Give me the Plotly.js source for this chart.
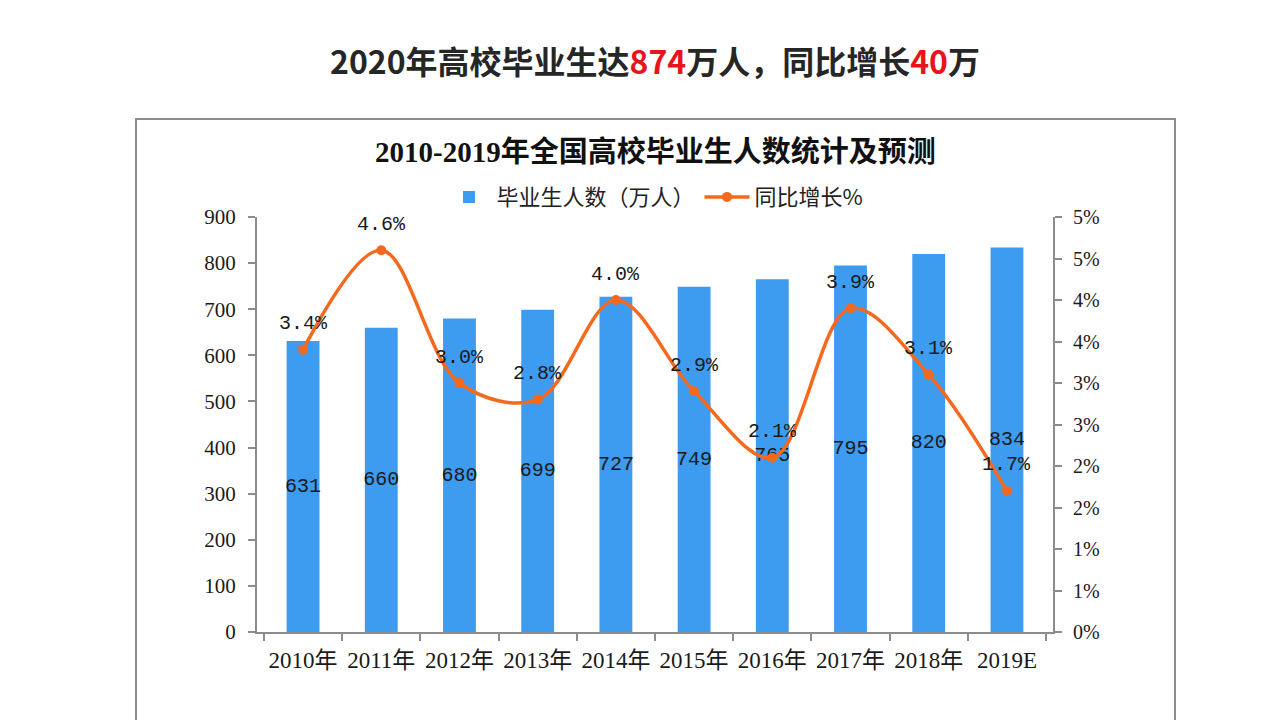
<!DOCTYPE html>
<html><head><meta charset="utf-8">
<script src="https://cdn.plot.ly/plotly-3.0.1.min.js"></script>
<style>
body{margin:0;background:#fff;}
#frame{position:absolute;left:135px;top:118px;width:1041px;height:620px;border:2px solid #8c8c8c;box-sizing:border-box;background:#fff;}
#chart{position:absolute;left:0;top:0;width:1280px;height:720px;}
</style>
</head><body>
<div id="frame"></div>
<div id="chart"></div>
<script>
const years = ['2010年','2011年','2012年','2013年','2014年','2015年','2016年','2017年','2018年','2019E'];
const graduates = [631,660,680,699,727,749,765,795,820,834];
const growth = [3.4,4.6,3.0,2.8,4.0,2.9,2.1,3.9,3.1,1.7];
const growthTickVals = [0,0.5,1,1.5,2,2.5,3,3.5,4,4.5,5];
const growthTickText = ['0%','1%','1%','2%','2%','3%','3%','4%','4%','5%','5%'];

const serif = 'Liberation Serif, Noto Sans CJK SC, serif';
const mono = 'Liberation Mono, Noto Sans CJK SC, monospace';
const cjk = 'Noto Sans CJK SC, sans-serif';
const barColor = '#3d9bf0';
const lineColor = '#f5691e';

const traces = [
  {
    type: 'bar', name: '毕业生人数（万人）', x: years, y: graduates,
    marker: {color: barColor},
    text: graduates.map(String), textposition: 'inside', insidetextanchor: 'middle',
    textangle: 0, constraintext: 'none',
    textfont: {family: mono, size: 20, color: '#1a1a1a'},
    hoverinfo: 'x+y'
  },
  {
    type: 'scatter', mode: 'lines+markers', name: '同比增长%', x: years, y: growth, yaxis: 'y2',
    line: {color: lineColor, width: 3.5, shape: 'spline', smoothing: 1},
    marker: {color: lineColor, size: 10}
  }
];

const growthLabels = years.map((yr, i) => ({
  x: yr, y: growth[i], xref: 'x', yref: 'y2', yshift: 26,
  text: growth[i].toFixed(1) + '%', showarrow: false,
  xanchor: 'center', yanchor: 'middle',
  font: {family: mono, size: 20, color: '#1a1a1a'}
}));

const axisLine = '#8c8c8c';
const layout = {
  width: 1280, height: 720,
  margin: {l: 257, r: 227, t: 217, b: 88},
  paper_bgcolor: 'rgba(0,0,0,0)', plot_bgcolor: 'rgba(0,0,0,0)',
  bargap: 0.58,
  showlegend: true,
  legend: {
    orientation: 'h', x: 0.5, xanchor: 'center', y: 1.048, yanchor: 'middle',
    font: {family: cjk, size: 22, color: '#222'}, itemwidth: 45, bgcolor: 'rgba(0,0,0,0)'
  },
  xaxis: {
    type: 'category', showline: true, linecolor: axisLine, linewidth: 2,
    ticks: 'outside', tickson: 'boundaries', ticklen: 7, tickcolor: axisLine, tickwidth: 2,
    ticklabelstandoff: 6, tickangle: 0, automargin: false,
    tickfont: {family: serif, size: 23, color: '#1a1a1a'}, showgrid: false, zeroline: false
  },
  yaxis: {
    range: [0, 900], dtick: 100, showline: true, linecolor: axisLine, linewidth: 2,
    ticks: 'outside', ticklen: 7, tickcolor: axisLine, tickwidth: 2,
    ticklabelstandoff: 8,
    tickfont: {family: serif, size: 21, color: '#1a1a1a'}, showgrid: false, zeroline: false
  },
  yaxis2: {
    overlaying: 'y', side: 'right', range: [0, 5],
    tickvals: growthTickVals, ticktext: growthTickText,
    showline: true, linecolor: axisLine, linewidth: 2,
    ticks: 'outside', ticklen: 7, tickcolor: axisLine, tickwidth: 2,
    ticklabelstandoff: 7,
    tickfont: {family: 'Liberation Serif, serif', size: 20, color: '#1a1a1a'},
    showgrid: false, zeroline: false
  },
  annotations: [
    {
      xref: 'paper', yref: 'paper', x: 0.5, y: 1.378, xanchor: 'center', yanchor: 'middle',
      showarrow: false,
      text: '<b>2020年高校毕业生达<span style="color:#e8141b">874</span>万人，同比增长<span style="color:#e8141b">40</span>万</b>',
      font: {family: cjk, size: 32, color: '#262626'}
    },
    {
      xref: 'paper', yref: 'paper', x: 0.5, y: 1.1566, xanchor: 'center', yanchor: 'middle',
      showarrow: false,
      text: '<b>2010-2019年全国高校毕业生人数统计及预测</b>',
      font: {family: serif, size: 29, color: '#111'}
    }
  ].concat(growthLabels)
};

Plotly.newPlot('chart', traces, layout, {displayModeBar: false, staticPlot: true});
</script>
</body></html>
